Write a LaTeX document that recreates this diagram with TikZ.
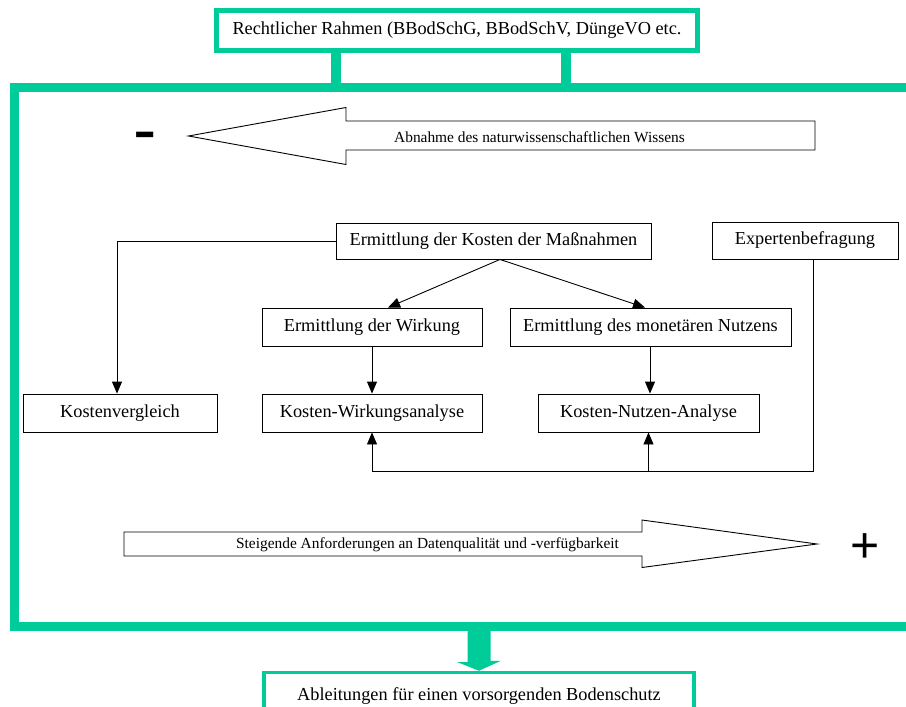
\documentclass[tikz,border=0pt]{standalone}
\usepackage{fontspec}
\setmainfont{Liberation Serif}
\newfontfamily\signfont{Liberation Sans}
\usetikzlibrary{arrows.meta,calc}
\definecolor{frame}{RGB}{0,204,153}
\begin{document}
\begin{tikzpicture}[x=1pt,y=-1pt,
  box/.style={draw=black,line width=0.9pt,fill=white,inner sep=0pt,minimum height=37pt,font=\fontsize{18.3}{20}\selectfont},
  conn/.style={draw=black,line width=0.9pt},
  arr/.style={conn,-{Triangle[length=12pt,width=10pt]}},
  gbox/.style={draw=frame,fill=white,inner sep=0pt,font=\fontsize{18.3}{20}\selectfont},
  bigarrow/.style={draw=black,line width=0.9pt,fill=white,line join=miter},
  small/.style={font=\fontsize{15.4}{17}\selectfont,inner sep=0pt},
  greenline/.style={draw=frame,line join=miter}]
\useasboundingbox (0,0) rectangle (906,707);
\clip (0,0) rectangle (906,707);
\fill[white] (0,0) rectangle (906,707);

% big frame
\draw[greenline,line width=9pt] (930,87.5) -- (14,87.5) -- (14,626) -- (930,626);
\coordinate (ftop) at (457,87.5);
\coordinate (fbot) at (479,626);

% top box
\node[gbox,line width=5pt,minimum width=481.5pt,minimum height=40pt] (top) at (457,30.5) {Rechtlicher Rahmen (BBodSchG, BBodSchV, DüngeVO etc.};
\draw[greenline,line width=9.5pt] ([xshift=-121pt]top.south) -- ([xshift=-121pt]top.south |- ftop);
\draw[greenline,line width=9.5pt] ([xshift=109pt]top.south) -- ([xshift=109pt]top.south |- ftop);

% bottom box
\node[gbox,line width=3.5pt,minimum width=430pt,minimum height=47pt] (bot) at (479,696) {Ableitungen für einen vorsorgenden Bodenschutz};
\fill[frame] (fbot) ++(-11.5,0) -- ++(0,36) -- ++(-10.5,0) -- (bot.north) -- ++(22,-10) -- ++(-10.5,0) -- ++(0,-36) -- cycle;

% left big arrow
\draw[bigarrow] (815,121) -- (346,121) -- (346,107.5) -- (188.5,136) -- (346,164.5) -- (346,150) -- (815,150) -- cycle;
\node[small] (abn) at (539.5,137) {Abnahme des naturwissenschaftlichen Wissens};
\node[font=\signfont\fontsize{70}{70}\selectfont,inner sep=0pt,anchor=base] (minus) at (145.3,153) {-};

% right big arrow
\draw[bigarrow] (124,532) -- (642,532) -- (642,520) -- (817,544) -- (642,567.5) -- (642,556) -- (124,556) -- cycle;
\node[small] (stg) at (427.5,544.5) {Steigende Anforderungen an Datenqualität und -verfügbarkeit};
\node[font=\signfont\fontsize{50}{50}\selectfont,inner sep=0pt,anchor=base] (plus) at (865,562.5) {+};

% middle nodes
\node[box,minimum width=315pt,minimum height=36pt] (kosten) at (493.5,241) {Ermittlung der Kosten der Maßnahmen};
\node[box,minimum width=186pt] (exp) at (805,240.5) {Expertenbefragung};
\node[box,minimum width=220pt,minimum height=38pt] (wirk) at (372,327) {Ermittlung der Wirkung};
\node[box,minimum width=281pt,minimum height=38pt] (mon) at (650.5,327) {Ermittlung des monetären Nutzens};
\node[box,minimum width=194pt,minimum height=38pt] (kv) at (120,413) {Kostenvergleich};
\node[box,minimum width=220pt,minimum height=38pt] (kwa) at (372,413) {Kosten-Wirkungsanalyse};
\node[box,minimum width=221pt,minimum height=38pt] (kna) at (648.5,413) {Kosten-Nutzen-Analyse};
\coordinate (bl) at (372,471);

% connectors
\draw[arr] (kosten.west) -| ([xshift=-3pt]kv.north);
\draw[arr] ([xshift=6.5pt]kosten.south) -- ([xshift=16pt]wirk.north);
\draw[arr] ([xshift=6.5pt]kosten.south) -- ([xshift=-5.5pt]mon.north);
\draw[arr] (wirk.south) -- (kwa.north);
\draw[arr] ([xshift=-0.5pt]mon.south) -- ([xshift=1.5pt]kna.north);
\draw[conn] ([xshift=8pt]exp.south) |- (bl);
\draw[arr] (bl) -- (kwa.south);
\draw[arr] (kna.south |- bl) -- (kna.south);
\end{tikzpicture}
\end{document}
